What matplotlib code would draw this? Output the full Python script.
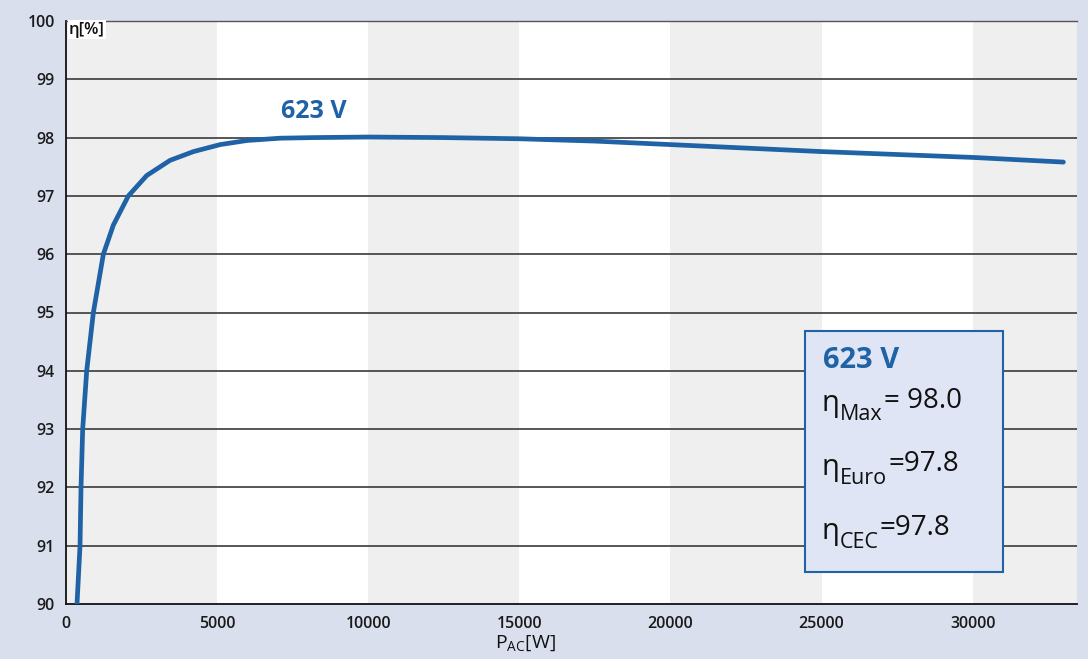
import matplotlib
matplotlib.use("Agg")
import matplotlib.pyplot as plt

plt.rcParams['font.family'] = ['Open Sans', 'DejaVu Sans']

# Data
p_ac = [364, 464, 497, 552, 685, 905, 1236, 1567, 2063, 2672, 3444, 4216, 5099,
        5983, 7086, 8180, 10000, 12500, 15000, 17500, 20000, 22500, 25000,
        27500, 30000, 33000]
eta = [90.0, 91.0, 92.0, 93.0, 94.0, 95.0, 96.0, 96.5, 97.0, 97.35, 97.61, 97.76,
       97.88, 97.95, 97.99, 98.0, 98.01, 98.0, 97.98, 97.94, 97.88, 97.82, 97.76,
       97.71, 97.66, 97.58]
x_ticks = [0, 5000, 10000, 15000, 20000, 25000, 30000]
y_ticks = [90, 91, 92, 93, 94, 95, 96, 97, 98, 99, 100]
series_label = "623 V"
box_subs = ["Max", "Euro", "CEC"]
box_vals = ["= 98.0", "=97.8", "=97.8"]

bg = '#d9dfed'
blue = '#1f62a6'

fig = plt.figure(figsize=(10.88, 6.59), dpi=100, facecolor=bg)
ax = fig.add_axes([66/1088, 1-604/659, (1077-66)/1088, (604-21)/659])
ax.set_facecolor('white')
xmax = 33450
ax.set_xlim(0, xmax)
ax.set_ylim(90, 100)

# alternating vertical bands
for i, start in enumerate(range(0, 35000, 5000)):
    if i % 2 == 0:
        ax.axvspan(start, min(start + 5000, xmax), color='#efefef', zorder=0, lw=0)

for y in y_ticks[1:-1]:
    ax.axhline(y, color='#3a3a3a', lw=1.2, zorder=1)

ax.plot(p_ac, eta, color=blue, lw=3.4, zorder=3, solid_capstyle='round',
        solid_joinstyle='round')

ax.text(8200, 98.45, series_label, color=blue, fontsize=18, fontweight='bold',
        ha='center', va='center')

ax.set_xticks(x_ticks)
ax.set_yticks(y_ticks)
ax.set_xticklabels([str(v) for v in x_ticks], fontsize=11.5, color='#1a1a1a',
                   fontweight='semibold')
ax.set_yticklabels([str(v) for v in y_ticks], fontsize=11.5, color='#1a1a1a',
                   fontweight='semibold')
ax.tick_params(axis='both', length=0)
ax.tick_params(axis='x', pad=9)
ax.tick_params(axis='y', pad=8)

for s in ['left', 'bottom']:
    ax.spines[s].set_color('#111111')
    ax.spines[s].set_linewidth(1.3)
ax.spines['top'].set_color('#555555')
ax.spines['top'].set_linewidth(1.0)
ax.spines['right'].set_visible(False)

ax.text(0.003, 0.999, "η[%]", transform=ax.transAxes, fontsize=12,
        ha='left', va='top', color='#111111', fontweight='semibold',
        bbox=dict(facecolor='white', edgecolor='none', pad=1))

fig.text(525/1088, 1-643/659, r"P$_{\mathregular{AC}}$[W]", fontsize=14,
         ha='center', va='center', color='#111111')

# info box
bx0, by0 = 805/1088, 1-572/659
bw, bh = (1003-805)/1088, (572-331)/659
fig.patches.append(plt.Rectangle((bx0, by0), bw, bh, transform=fig.transFigure,
                                 facecolor='#dfe5f4', edgecolor=blue, lw=1.5, zorder=5))
fig.text(823/1088, 1-361/659, series_label, color=blue, fontsize=21,
         fontweight='bold', ha='left', va='center', zorder=6)

renderer = fig.canvas.get_renderer()
ys = [404, 467, 531]
for sub, val, yp in zip(box_subs, box_vals, ys):
    t1 = fig.text(821/1088, 1-yp/659, "η", fontsize=21, color='#111111',
                  ha='left', va='center', zorder=6)
    x1 = t1.get_window_extent(renderer).x1
    t2 = fig.text((x1 + 1)/1088, 1-(yp + 11)/659, sub, fontsize=15.5, color='#111111',
                  ha='left', va='center', zorder=6)
    x2 = t2.get_window_extent(renderer).x1
    fig.text((x2 + 1)/1088, 1-(yp - 3)/659, val, fontsize=20, color='#111111',
             ha='left', va='center', zorder=6)

fig.savefig("out.png", dpi=100, facecolor=bg)
